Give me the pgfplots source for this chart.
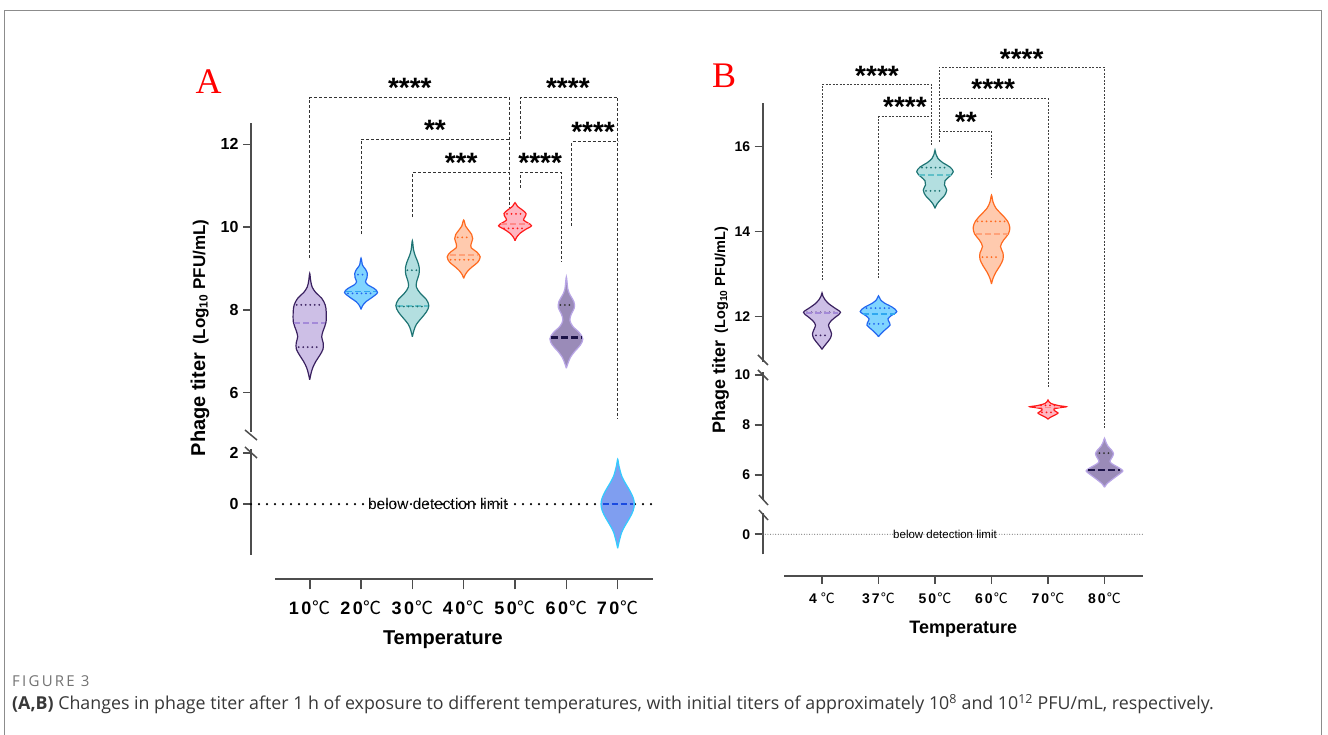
\documentclass[border=0pt]{standalone}
\usepackage{pgfplots}
\pgfplotsset{compat=1.18}
\usepackage{fontspec}
\setmainfont{Liberation Sans}
\newfontfamily\seriffont{Liberation Serif}
\newfontfamily\cjk{Noto Sans CJK SC}
\newfontfamily\capfont{Open Sans}
\newfontfamily\figfont[LetterSpace=15]{Open Sans}
\newcommand\degc{{\mdseries\cjk ℃}}

\definecolor{axgray}{HTML}{4D4D4D}
\definecolor{fr}{HTML}{8C8C8C}
\definecolor{pF}{HTML}{CDBFE6}\definecolor{pE}{HTML}{3A2160}\definecolor{pM}{HTML}{A48AD8}
\definecolor{bF}{HTML}{80D4FF}\definecolor{bE}{HTML}{2266F0}\definecolor{bM}{HTML}{30A8F0}
\definecolor{tF}{HTML}{B3DFE0}\definecolor{tE}{HTML}{1E7474}\definecolor{tM}{HTML}{60C0C8}
\definecolor{oF}{HTML}{FFCAAE}\definecolor{oE}{HTML}{FF6A1F}\definecolor{oM}{HTML}{FFA27A}
\definecolor{rF}{HTML}{FFB6C1}\definecolor{rE}{HTML}{FF1A1A}\definecolor{rM}{HTML}{FF8A8A}
\definecolor{gF}{HTML}{9A8BB8}\definecolor{gE}{HTML}{B8A5E6}\definecolor{gM}{HTML}{1C1348}
\definecolor{vF}{HTML}{7F9EF0}\definecolor{vE}{HTML}{33CCFF}\definecolor{vM}{HTML}{1A4BE0}

\tikzset{
  dotq/.style={dash pattern=on 0pt off 4.5pt, line cap=round, line width=2pt},
  medq/.style={dash pattern=on 6pt off 3pt, line width=1.6pt},
  medthick/.style={dash pattern=on 7pt off 3pt, line width=2.6pt},
  brA/.style={draw=black!80, line width=1pt, dash pattern=on 3pt off 2pt},
  brB/.style={draw=black!75, line width=0.9pt, dash pattern=on 2pt off 1.5pt},
  star/.style={font=\fontsize{28}{28}\selectfont\bfseries, anchor=base, inner sep=0pt},
}

% violin: #1 centre, #2 px per category, #3 edge, #4 fill, #5 bottom tip, #6 top tip, #7 profile y/halfwidth(px)
\newcommand\violin[7]{%
  \gdef\vR{}\gdef\vL{}%
  \foreach \yy/\ww in {#7}{%
    \pgfmathsetmacro\xa{#1+\ww/#2}%
    \pgfmathsetmacro\xb{#1-\ww/#2}%
    \xdef\vR{\vR (\xa,\yy)}%
    \xdef\vL{(\xb,\yy) \vL}%
  }%
  \edef\doit{\noexpand\addplot[smooth, tension=0.55, draw=#3, fill=#4, line width=1.2pt] coordinates {(#1,#5) \vR (#1,#6) \vL (#1,#5)};}%
  \doit
}
% quartile line: #1 centre, #2 px per cat, #3 y, #4 half width px, #5 colour, #6 style
\newcommand\qline[6]{%
  \pgfmathsetmacro\qa{#1-#4/#2}\pgfmathsetmacro\qb{#1+#4/#2}%
  \edef\doit{\noexpand\addplot[#5, #6] coordinates {(\qa,#3) (\qb,#3)};}%
  \doit
}

\pgfplotsset{
  brk/.style={scale only axis, clip=false, axis x line=none, axis y line*=left,
    y axis line style={line width=1.8pt, draw=axgray},
    ytick style={line width=1.6pt, draw=axgray},
    tick align=outside, major tick length=8pt,
    /pgf/number format/assume math mode=true,
    yticklabel style={font=\fontsize{16}{16}\selectfont\bfseries, xshift=-1pt},
  },
  xax/.style={scale only axis, clip=false, axis y line=none, axis x line*=bottom,
    x axis line style={line width=1.8pt, draw=axgray},
    xtick style={line width=1.6pt, draw=axgray},
    tick align=outside, ymin=0, ymax=1, height=10pt, xtick={0,...,6},
  },
}

\begin{document}
\begin{tikzpicture}[x=1pt,y=1pt]
\path[use as bounding box] (0,0) rectangle (1328,735);
\fill[white] (0,0) rectangle (1328,735);
\draw[fr, line width=1pt] (4.7,-2) -- (4.7,724.3) -- (1321,724.3) -- (1321,-2);

%================ PANEL A =================
\begin{axis}[brk, at={(251pt,303pt)}, anchor=south west, width=402pt, height=309pt,
  xmin=-1.1436, xmax=6.688, ymin=5.05, ymax=12.515, ytick={6,8,10,12}]
% brackets
\addplot[brA] coordinates {(0,9.25) (0,13.13) (3.902,13.13) (3.902,10.49)};
\addplot[brA] coordinates {(1,9.83) (1,12.12) (3.902,12.12)};
\addplot[brA] coordinates {(2,10.24) (2,11.31) (3.902,11.31)};
\addplot[brA] coordinates {(4.097,12.13) (4.097,13.13) (6,13.13) (6,5.36)};
\addplot[brA] coordinates {(4.097,10.95) (4.097,11.31) (4.909,11.31) (4.909,9.16)};
\addplot[brA] coordinates {(5.104,10.03) (5.104,12.06) (6,12.06)};
\node[star] at (axis cs:1.95,13.12) {****};
\node[star] at (axis cs:2.44,12.12) {**};
\node[star] at (axis cs:2.95,11.32) {***};
\node[star] at (axis cs:5.03,13.12) {****};
\node[star] at (axis cs:4.49,11.32) {****};
\node[star] at (axis cs:5.52,12.06) {****};
% violins
\violin{0}{51.33}{pE}{pF}{6.31}{8.88}{6.45/1.2, 6.6/3, 6.75/6, 6.9/10, 7.05/13.3, 7.2/13.5, 7.35/12, 7.5/13.5, 7.7/16.3, 7.95/16.5, 8.12/15.5, 8.28/12, 8.42/6, 8.55/2.5, 8.7/1}
\qline{0}{51.33}{8.12}{13}{pE}{dotq}
\qline{0}{51.33}{7.69}{15.5}{pM}{medq}
\qline{0}{51.33}{7.10}{11}{pE}{dotq}
\violin{1}{51.33}{bE}{bF}{8.01}{9.25}{8.1/1.5, 8.2/5, 8.3/11, 8.42/16.5, 8.52/13, 8.6/7, 8.68/4.5, 8.78/6, 8.88/6.3, 8.98/4.5, 9.08/1.5}
\qline{1}{51.33}{8.85}{3}{bE}{dotq}
\qline{1}{51.33}{8.44}{15}{bM}{medq}
\qline{1}{51.33}{8.40}{13}{bE}{dotq}
\violin{2}{51.33}{tE}{tF}{7.35}{9.67}{7.5/1.5, 7.65/4, 7.8/9, 7.95/14, 8.1/16.5, 8.25/14, 8.4/8, 8.55/4, 8.7/4.5, 8.85/6.5, 9.0/7, 9.15/5.5, 9.3/3, 9.45/1.2}
\qline{2}{51.33}{8.96}{5}{tE}{dotq}
\qline{2}{51.33}{8.10}{15.5}{tM}{medq}
\qline{2}{51.33}{8.08}{13}{tE}{dotq}
\violin{3}{51.33}{oE}{oF}{8.76}{10.17}{8.85/1.5, 8.95/4.5, 9.05/9, 9.15/14, 9.28/16.5, 9.4/13, 9.5/7.5, 9.6/7.5, 9.72/9, 9.82/8, 9.92/5, 10.02/2}
\qline{3}{51.33}{9.75}{6}{oE}{dotq}
\qline{3}{51.33}{9.33}{14}{oM}{medq}
\qline{3}{51.33}{9.21}{13}{oE}{dotq}
\violin{4}{51.33}{rE}{rF}{9.67}{10.59}{9.75/1.5, 9.85/5, 9.95/11, 10.03/16.5, 10.1/13, 10.17/8.5, 10.25/10, 10.33/11, 10.42/7, 10.5/2.5}
\qline{4}{51.33}{10.32}{8}{rE}{dotq}
\qline{4}{51.33}{10.07}{14}{rM}{medq}
\qline{4}{51.33}{9.97}{11}{rE}{dotq}
\violin{5}{51.33}{gE}{gF}{6.59}{8.80}{6.7/1.5, 6.85/4, 7.0/8.5, 7.15/14, 7.3/16.5, 7.45/13, 7.6/6.5, 7.75/3.5, 7.9/5, 8.05/8, 8.2/7.5, 8.35/4, 8.5/1.5}
\qline{5}{51.33}{8.12}{6}{black!80}{dotq}
\qline{5}{51.33}{7.33}{15.5}{gM}{medthick}
\end{axis}

\begin{axis}[brk, at={(251pt,180pt)}, anchor=south west, width=402pt, height=106pt,
  xmin=-1.1436, xmax=6.688, ymin=-1.98, ymax=2.15, ytick={0,2}]
\addplot[black, dash pattern=on 0pt off 8pt, line cap=round, line width=2.4pt] coordinates {(-1.1436,0) (6.688,0)};
\node[font=\fontsize{15.5}{15.5}\selectfont, inner sep=0pt] at (axis cs:2.496,0) {below detection limit};
\violin{6}{51.33}{vE}{vF}{-1.72}{1.75}{-1.5/1.2, -1.3/2.5, -1.1/4, -0.9/6.5, -0.7/9.5, -0.5/12.5, -0.25/15.5, 0/16.7, 0.25/15.5, 0.5/12.5, 0.7/9.5, 0.9/6.5, 1.1/4, 1.3/2.5, 1.5/1.2}
\qline{6}{51.33}{0}{15}{vM}{medq}
\end{axis}

\begin{axis}[xax, at={(275pt,155.7pt)}, anchor=south west, width=378pt,
  xmin=-0.676, xmax=6.688, major tick length=10pt,
  xticklabels={1\kern2.5pt0\kern1pt\degc,2\kern2.5pt0\kern1pt\degc,3\kern2.5pt0\kern1pt\degc,4\kern2.5pt0\kern1pt\degc,5\kern2.5pt0\kern1pt\degc,6\kern2.5pt0\kern1pt\degc,7\kern2.5pt0\kern1pt\degc},
  xticklabel style={font=\fontsize{18}{18}\selectfont\bfseries, anchor=center, yshift=-18pt},
  xlabel={Temperature},
  xlabel style={font=\fontsize{20}{20}\selectfont\bfseries, at={(axis description cs:0.444,0)}, anchor=center, yshift=-60pt},
]
\end{axis}

\draw[axgray, line width=1.5pt] (245,305) -- (257,295);
\draw[axgray, line width=1.5pt] (245,288) -- (257,277);

\node[rotate=90, anchor=base] at (205,397) {{\fontsize{20}{20}\selectfont\bfseries Phage titer}\hspace{8pt}{\fontsize{17}{17}\selectfont\bfseries (Log\textsubscript{10} PFU/mL)}};
\node[anchor=base, text=red, font=\seriffont\fontsize{36}{36}\selectfont, inner sep=0pt] at (208.7,641) {A};

%================ PANEL B =================
\begin{axis}[brk, at={(762.7pt,373pt)}, anchor=south west, width=380.6pt, height=258.7pt,
  xmin=-1.0496, xmax=5.687, ymin=10.934, ymax=17.021, ytick={12,14,16},
  yticklabel style={font=\fontsize{14}{14}\selectfont\bfseries}]
\addplot[brB] coordinates {(0,12.86) (0,17.47) (1.929,17.47) (1.929,16.0)};
\addplot[brB] coordinates {(1,12.91) (1,16.71) (1.929,16.71)};
\addplot[brB] coordinates {(2.076,16.12) (2.076,17.87) (5.0,17.87) (5.0,9.38)};
\addplot[brB] coordinates {(2.076,17.14) (4.0,17.14) (4.0,10.32)};
\addplot[brB] coordinates {(2.076,16.37) (3.0,16.37) (3.0,15.26)};
\node[star] at (axis cs:0.974,17.43) {****};
\node[star] at (axis cs:1.469,16.70) {****};
\node[star] at (axis cs:3.535,17.84) {****};
\node[star] at (axis cs:3.03,17.13) {****};
\node[star] at (axis cs:2.547,16.35) {**};
\violin{0}{56.5}{pE}{pF}{11.23}{12.56}{11.3/2, 11.4/5.5, 11.5/8.5, 11.6/9.5, 11.7/8, 11.8/6.5, 11.9/9, 12.0/14, 12.1/18.5, 12.2/13, 12.3/7, 12.4/3, 12.48/1}
\qline{0}{56.5}{12.10}{15}{pE}{dotq}
\qline{0}{56.5}{12.09}{16}{pM}{medq}
\qline{0}{56.5}{11.56}{6}{pE}{dotq}
\violin{1}{56.5}{bE}{bF}{11.53}{12.49}{11.6/2.5, 11.7/7, 11.8/11.5, 11.88/10.5, 11.95/9.5, 12.03/13, 12.12/18.3, 12.22/14, 12.32/6, 12.4/2}
\qline{1}{56.5}{12.20}{12}{bE}{dotq}
\qline{1}{56.5}{12.07}{16}{bM}{medq}
\qline{1}{56.5}{11.83}{9}{bE}{dotq}
\violin{2}{56.5}{tE}{tF}{14.55}{15.92}{14.65/2, 14.75/5.5, 14.85/9.5, 14.98/11.7, 15.1/9.5, 15.2/10, 15.3/14.5, 15.41/18.3, 15.52/15, 15.62/8, 15.72/3, 15.82/1}
\qline{2}{56.5}{15.51}{13}{tE}{dotq}
\qline{2}{56.5}{15.34}{16}{tM}{medq}
\qline{2}{56.5}{14.96}{9}{tE}{dotq}
\violin{3}{56.5}{oE}{oF}{12.77}{14.86}{12.9/1.5, 13.05/4.5, 13.2/8.5, 13.35/11.5, 13.5/11.5, 13.65/9, 13.8/12, 13.95/17, 14.1/18.3, 14.25/16, 14.4/10.5, 14.55/4.5, 14.7/1.5}
\qline{3}{56.5}{14.24}{14}{oE}{dotq}
\qline{3}{56.5}{13.95}{16}{oM}{medq}
\qline{3}{56.5}{13.40}{9}{oE}{dotq}
\end{axis}

\begin{axis}[brk, at={(762.7pt,235pt)}, anchor=south west, width=380.6pt, height=128pt,
  xmin=-1.0496, xmax=5.687, ymin=5.0, ymax=10.12, ytick={6,8,10},
  yticklabel style={font=\fontsize{14}{14}\selectfont\bfseries}]
\violin{4}{56.5}{rE}{rF}{8.23}{9.0}{8.3/2, 8.4/7, 8.48/10, 8.56/7, 8.64/6, 8.7/13, 8.73/18.3, 8.78/10, 8.86/3, 8.93/1}
\qline{4}{56.5}{8.78}{7}{rE}{dotq}
\qline{4}{56.5}{8.70}{12}{rM}{medq}
\qline{4}{56.5}{8.50}{6}{rE}{dotq}
\violin{5}{56.5}{gE}{gF}{5.51}{7.47}{5.65/2.5, 5.8/7, 5.95/12, 6.1/17, 6.18/18.3, 6.3/14, 6.45/7.5, 6.55/5.5, 6.7/7.5, 6.85/9, 7.0/7, 7.15/3.5, 7.3/1.5}
\qline{5}{56.5}{6.87}{5}{black!80}{dotq}
\qline{5}{56.5}{6.20}{16}{gM}{medthick}
\end{axis}

\begin{axis}[brk, at={(762.7pt,180.7pt)}, anchor=south west, width=380.6pt, height=41.3pt,
  xmin=-1.0496, xmax=5.687, ymin=-0.8, ymax=0.852, ytick={0},
  yticklabel style={font=\fontsize{14}{14}\selectfont\bfseries}]
\addplot[black!55, dash pattern=on 0pt off 2.6pt, line cap=round, line width=1.1pt] coordinates {(-1.0496,0) (5.687,0)};
\node[font=\fontsize{11.5}{11.5}\selectfont, inner sep=0pt] at (axis cs:2.177,0) {below detection limit};
\end{axis}

\begin{axis}[xax, at={(784pt,159.3pt)}, anchor=south west, width=359.3pt,
  xmin=-0.6726, xmax=5.687, major tick length=8pt, xtick={0,...,5},
  xticklabels={4\kern4pt\degc,3\kern2pt7\kern1pt\degc,5\kern2pt0\kern1pt\degc,6\kern2pt0\kern1pt\degc,7\kern2pt0\kern1pt\degc,8\kern2pt0\kern1pt\degc},
  xticklabel style={font=\fontsize{14}{14}\selectfont\bfseries, anchor=center, yshift=-15pt},
  xlabel={Temperature},
  xlabel style={font=\fontsize{18}{18}\selectfont\bfseries, at={(axis description cs:0.499,0)}, anchor=center, yshift=-53pt},
]
\end{axis}

\draw[axgray, line width=1.5pt] (758,380) -- (768,370);
\draw[axgray, line width=1.5pt] (758,365) -- (768,355);
\draw[axgray, line width=1.5pt] (759,240) -- (768,230);
\draw[axgray, line width=1.5pt] (759,225) -- (768,215);

\node[rotate=90, anchor=base] at (725,405) {{\fontsize{18}{18}\selectfont\bfseries Phage titer}\hspace{7pt}{\fontsize{14.5}{14.5}\selectfont\bfseries (Log\textsubscript{10} PFU/mL)}};
\node[anchor=base, text=red, font=\seriffont\fontsize{36}{36}\selectfont, inner sep=0pt] at (724,647) {B};

%================ CAPTION =================
\node[anchor=base west, inner sep=0pt, text=black!55, font=\figfont\fontsize{15}{15}\selectfont] at (12,48) {FIGURE 3};
\node[anchor=base west, inner sep=0pt, text=black!78, font=\capfont\fontsize{17.8}{17.8}\selectfont] at (12,25) {\textbf{(A,B)} Changes in phage titer after 1 h of exposure to different temperatures, with initial titers of approximately 10\textsuperscript{8} and 10\textsuperscript{12} PFU/mL, respectively.};
\end{tikzpicture}
\end{document}
